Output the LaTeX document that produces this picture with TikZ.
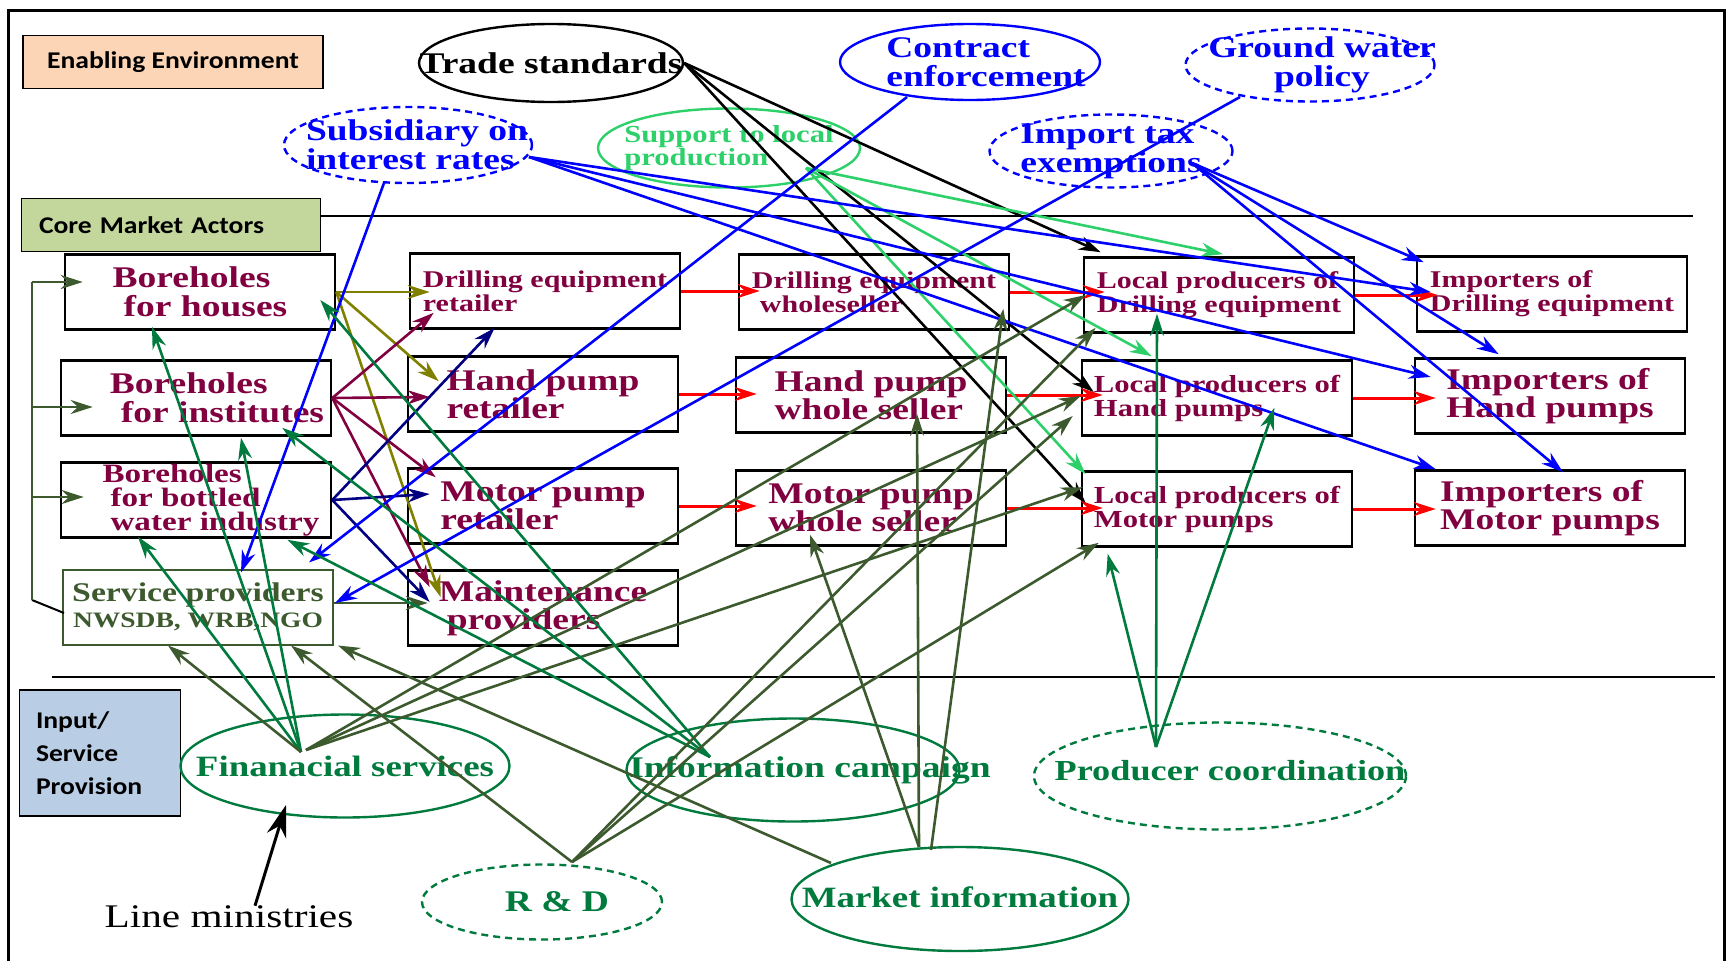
\documentclass[tikz,border=0pt]{standalone}
\usepackage{fontspec}
\setmainfont{Liberation Serif}[FakeStretch=1.25]
\newfontfamily\calfont{Carlito}[FakeStretch=1.15]
\usetikzlibrary{arrows.meta,shapes.geometric}

\definecolor{boxred}{RGB}{128,0,64}
\definecolor{olivearr}{RGB}{128,128,0}
\definecolor{navyarr}{RGB}{0,0,128}
\definecolor{ltgreen}{RGB}{46,208,106}
\definecolor{mgreen}{RGB}{0,122,61}
\definecolor{dkgreen}{RGB}{60,90,46}
\definecolor{peach}{RGB}{251,213,181}
\definecolor{sage}{RGB}{195,214,155}
\definecolor{lblue}{RGB}{185,205,229}

\begin{document}
\begin{tikzpicture}[x=1pt, y=-1pt,
    actor/.style={draw, line width=2.6pt, minimum width=270pt, minimum height=75pt,
      inner sep=0pt, text=boxred, align=left, font=\bfseries\fontsize{30}{28}\selectfont},
    oval/.style={ellipse, draw, line width=2.4pt, inner sep=0pt},
    dashedoval/.style={oval, dash pattern=on 7pt off 5pt},
    ovaltext/.style={inner sep=0pt, align=left, font=\bfseries\fontsize{30}{29}\selectfont},
    head/.style={draw, line width=1.8pt, inner sep=0pt, font=\calfont\bfseries\fontsize{24}{33}\selectfont},
    link/.style={line width=2.6pt, -{Stealth[length=22pt,width=14pt]}},
    fwd/.style={link, red, line width=3pt, shorten >=-22pt}]
  \useasboundingbox (0,0) rectangle (1729,961);
  % Frame and section lines
  \draw[line width=3pt] (8,961) -- (8,10) -- (1724,10) -- (1724,961);
  \draw[line width=2pt] (321,216) -- (1693,216);
  \draw[line width=2pt] (52,677) -- (1715,677);
  % Section headings
  \node[head, fill=peach, minimum width=300pt, minimum height=53pt] (envhead) at (173,62) {Enabling Environment};
  \node[head, fill=sage, minimum width=299pt, minimum height=53pt, text width=264pt, align=left] (corehead) at (171,225) {Core Market Actors};
  \node[head, fill=lblue, minimum width=161pt, minimum height=126pt, text width=128pt, align=left] (inhead) at (100,753) {Input/\\Service\\Provision};

  % Enabling environment
  \node[oval, minimum width=264pt, minimum height=78pt,
    label={[ovaltext]center:Trade standards}] (trade) at (551,63) {};
  \node[oval, blue, minimum width=260pt, minimum height=76pt,
    label={[ovaltext, text=blue, xshift=16pt]center:{Contract\\enforcement}}] (contr) at (970,62) {};
  \node[dashedoval, blue, minimum width=249pt, minimum height=73pt,
    label={[ovaltext, text=blue, align=center, xshift=12pt]center:{Ground water\\policy}}] (gwater) at (1310,65) {};
  \node[dashedoval, blue, minimum width=248pt, minimum height=76pt,
    label={[ovaltext, text=blue, xshift=9pt]center:{Subsidiary on\\interest rates}}] (subs) at (408,145) {};
  \node[oval, ltgreen, minimum width=262pt, minimum height=79pt,
    label={[ovaltext, text=ltgreen, font=\bfseries\fontsize{24.5}{23}\selectfont]center:{Support to local\\production}}] (supp) at (729,148) {};
  \node[dashedoval, blue, minimum width=243pt, minimum height=73pt,
    label={[ovaltext, text=blue]center:{Import tax\\exemptions}}] (imptax) at (1111,151) {};

  % Core market actors
  \node[actor, font=\bfseries\fontsize{30}{29}\selectfont] (hous) at (200,292) {Boreholes\\\hspace*{11pt}for houses};
  \node[actor, font=\bfseries\fontsize{30}{29}\selectfont] (inst) at (196,398) {\hspace*{42pt}Boreholes\\\hspace*{53pt}for institutes};
  \node[actor, font=\bfseries\fontsize{26.5}{24}\selectfont] (bott) at (196,500) {\hspace*{30pt}Boreholes\\\hspace*{38pt}for bottled\\\hspace*{38pt}water industry};
  \node[actor, draw=dkgreen, line width=2pt, text=dkgreen, align=center, font=\bfseries\fontsize{27}{26}\selectfont] (svc) at (198,607) {Service providers\\{\fontsize{22}{24}\selectfont NWSDB, WRB,NGO}};
  \node[actor, font=\bfseries\fontsize{24}{24}\selectfont] (ret1) at (545,291) {Drilling equipment\\retailer};
  \node[actor] (hret) at (543,394) {Hand pump\\retailer};
  \node[actor] (mret) at (543,506) {Motor pump\\retailer};
  \node[actor] (maint) at (543,608) {Maintenance\\\hspace*{8pt}providers};
  \node[actor, font=\bfseries\fontsize{24}{24}\selectfont] (dws) at (874,292) {Drilling equipment\\\hspace*{8pt}wholeseller};
  \node[actor] (hws) at (871,395) {Hand pump\\whole seller};
  \node[actor] (mws) at (871,508) {Motor pump\\whole seller};
  \node[actor, font=\bfseries\fontsize{24}{24}\selectfont] (lp1) at (1219,295) {Local producers of\\Drilling equipment};
  \node[actor, font=\bfseries\fontsize{24.5}{24}\selectfont] (lp2) at (1217,398) {Local producers of\\Hand pumps};
  \node[actor, font=\bfseries\fontsize{24.5}{24}\selectfont] (lp3) at (1217,509) {Local producers of\\Motor pumps};
  \node[actor, font=\bfseries\fontsize{24}{24}\selectfont] (imp1) at (1552,294) {Importers of\\Drilling equipment};
  \node[actor] (imp2) at (1550,396) {Importers of\\Hand pumps};
  \node[actor] (imp3) at (1550,508) {Importers of\\Motor pumps};

  % Input and service provision
  \node[oval, mgreen, minimum width=329pt, minimum height=103pt,
    label={[ovaltext, text=mgreen, font=\bfseries\fontsize{29.5}{28}\selectfont]center:Finanacial services}] (fin) at (345,766) {};
  \node[oval, mgreen, minimum width=333pt, minimum height=103pt,
    label={[ovaltext, text=mgreen, xshift=17pt]center:Information campaign}] (info) at (793,770) {};
  \node[dashedoval, mgreen, minimum width=372pt, minimum height=107pt,
    label={[ovaltext, text=mgreen, xshift=10pt, yshift=5pt, font=\bfseries\fontsize{29}{28}\selectfont]center:Producer coordination}] (prod) at (1220,776) {};
  \node[dashedoval, mgreen, minimum width=240pt, minimum height=75pt,
    label={[ovaltext, text=mgreen, xshift=15pt]center:R \& D}] (rnd) at (542,902) {};
  \node[oval, mgreen, minimum width=337pt, minimum height=104pt,
    label={[ovaltext, text=mgreen, yshift=2pt, font=\bfseries\fontsize{29.5}{28}\selectfont]center:Market information}] (mkt) at (960,899) {};
  \node[font=\fontsize{33}{33}\selectfont, inner sep=0pt] (lmin) at (229,917) {Line ministries};

  % Bracket from service providers to borehole owners
  \coordinate (brk) at (32,600);
  \draw[line width=2pt] ([shift={(2,6)}]svc.west) -- (brk);
  \draw[dkgreen, line width=2.6pt] (brk) -- (32,282);
  \foreach \nd/\y/\s in {hous/282/-19pt, inst/407/-33pt, bott/497/-24pt}
    \draw[link, dkgreen, shorten >=\s] (32,\y) -- (\nd.west |- 0,\y);

  % Olive: houses to retailers
  \foreach \nd/\anc/\dx/\dy in {ret1/west/21/1, hret/north west/32/26, maint/north west/34/28}
    \draw[link, olivearr] (hous.east) -- ([shift={(\dx,\dy)}]\nd.\anc);
  % Maroon: institutes to retailers
  \foreach \nd/\anc/\dx/\dy in {ret1/south west/25/-17, hret/west/23/3, mret/north west/29/10, maint/north west/23/18}
    \draw[link, boxred] (inst.east) -- ([shift={(\dx,\dy)}]\nd.\anc);
  % Navy: bottled water to retailers
  \foreach \nd/\anc/\dx/\dy in {ret1/south west/86/-2, mret/west/23/-12, maint/west/23/-6}
    \draw[link, navyarr] (bott.east) -- ([shift={(\dx,\dy)}]\nd.\anc);
  \draw[link, dkgreen] ([shift={(0,-4)}]svc.east) -- ([shift={(21,-5)}]maint.west);

  % Red: along each supply chain
  \foreach \a/\b in {ret1/dws, dws/lp1, lp1/imp1, hret/hws, hws/lp2, lp2/imp2, mret/mws, mws/lp3, lp3/imp3}
    \draw[fwd] (\a.east) -- (\a.east -| \b.west);

  % Black: trade standards
  \foreach \nd/\anc/\dx/\dy in {lp1/north west/18/-4, lp2/west/13/-6, lp3/west/5/-6}
    \draw[link, black] (trade.east) -- ([shift={(\dx,\dy)}]\nd.\anc);
  % Light green: support to local production
  \foreach \nd/\anc/\dx/\dy in {lp1/north/4/-2, lp2/north west/71/-3, lp3/north west/5/4}
    \draw[link, ltgreen] ([shift={(77,20)}]supp.center) -- ([shift={(\dx,\dy)}]\nd.\anc);
  % Blue: subsidiary, import tax, contracts, ground water
  \foreach \nd/\anc/\dx/\dy in {imp1/west/15/-2, imp2/west/17/-19, imp3/north west/22/0}
    \draw[link, blue] ([shift={(121,12)}]subs.center) -- ([shift={(\dx,\dy)}]\nd.\anc);
  \draw[link, blue] ([shift={(-24,38)}]subs.center) -- ([shift={(43,4)}]svc.north);
  \foreach \nd/\anc/\dx/\dy in {imp1/north west/8/7, imp2/north west/85/-3, imp3/north/13/3}
    \draw[link, blue] ([shift={(81,12)}]imptax.center) -- ([shift={(\dx,\dy)}]\nd.\anc);
  \draw[link, blue] ([shift={(-63,35)}]contr.center) -- ([shift={(-25,-6)}]svc.north east);
  \draw[link, blue] ([shift={(-70,32)}]gwater.center) -- ([shift={(1,-4)}]svc.east);

  % Financial services
  \foreach \nd/\anc/\dx/\dy in {hous/south/-48/-4, inst/south/45/1, bott/south/-58/-2}
    \draw[link, mgreen] ([shift={(-44,-14)}]fin.center) -- ([shift={(\dx,\dy)}]\nd.\anc);
  \draw[link, dkgreen] ([shift={(-44,-14)}]fin.center) -- ([shift={(-30,0)}]svc.south);
  \foreach \nd/\anc/\dx/\dy in {lp1/west/3/0, lp2/west/0/-2, lp3/north west/2/17}
    \draw[link, dkgreen] ([shift={(-39,-16)}]fin.center) -- ([shift={(\dx,\dy)}]\nd.\anc);
  % Information campaign
  \foreach \nd/\anc/\dx/\dy in {hous/east/-16/8, inst/south east/-50/-9, bott/south east/-45/1}
    \draw[link, mgreen] ([shift={(-83,-13)}]info.center) -- ([shift={(\dx,\dy)}]\nd.\anc);
  % R & D
  \foreach \nd/\anc/\dx/\dy in {svc/south/93/0, lp1/south west/13/-6, lp2/west/-8/18, lp3/south west/18/-5}
    \draw[link, dkgreen] ([shift={(30,-40)}]rnd.center) -- ([shift={(\dx,\dy)}]\nd.\anc);
  % Market information
  \foreach \sx/\sy/\nd/\anc/\dx/\dy in {-41/-52/hws/south/46/-20, -41/-52/mws/south/-61/-12, -29/-49/dws/south east/-7/-22, -129/-36/svc/south east/4/0}
    \draw[link, dkgreen] ([shift={(\sx,\sy)}]mkt.center) -- ([shift={(\dx,\dy)}]\nd.\anc);
  % Producer coordination
  \foreach \nd/\anc/\dx/\dy in {lp1/south/-62/-20, lp2/south east/-79/-29, lp3/south west/27/6}
    \draw[link, mgreen] ([shift={(-64,-29)}]prod.center) -- ([shift={(\dx,\dy)}]\nd.\anc);
  % Line ministries
  \draw[line width=3pt, -{Stealth[length=32pt,width=20pt]}] ([shift={(26,0)}]lmin.north) -- ([shift={(-59,39)}]fin.center);
\end{tikzpicture}
\end{document}
